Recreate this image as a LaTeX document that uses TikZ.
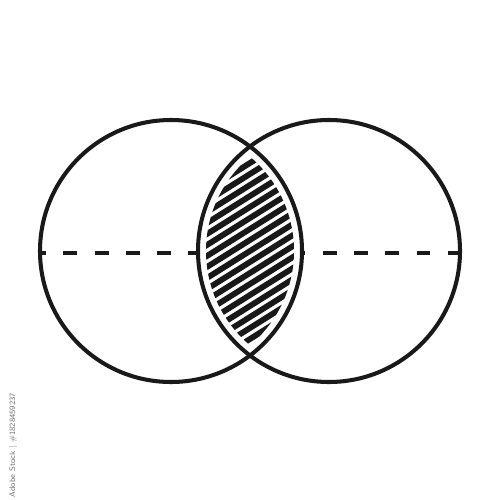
\documentclass[tikz,border=0pt]{standalone}
\usepackage{tikz}
\usetikzlibrary{calc}

\begin{document}
\begin{tikzpicture}[
          x=0.02cm,y=-0.02cm,
          ring/.style={draw=black!90,line width=2.3pt},
          axis/.style={draw=black!90,line width=2pt,dash pattern=on 7.9pt off 9.9pt},
          hatch/.style={draw=black!90,line width=3.3pt,line cap=round},
          stamp/.style={text=black!55,font=\sffamily\fontsize{4.6}{5}\selectfont,rotate=90}
        ]
        \useasboundingbox (0,0) rectangle (500,500);
        \def\rad{131}
        \coordinate (lc) at (171,251);
        \coordinate (rc) at (329,251);
        \coordinate (lw) at (40,253);
        \coordinate (lm) at (197,253);
        \coordinate (rm) at (302,253);
        \coordinate (re) at (460,253);
        % hatched lens
        \begin{scope}
          \clip (lc) circle (\rad-8);
          \clip (rc) circle (\rad-8);
          \foreach\k in {-10,...,10}{\draw[hatch] (140,251+\k*11+69) -- (360,251+\k*11-69);}
        \end{scope}
        % dashed diameter
        \draw[axis,dash phase=4.5pt] (lw) -- (lm);
        \draw[axis,dash phase=6pt] (rm) -- (re);
        \draw[ring] (lc) circle (\rad);
        \draw[ring] (rc) circle (\rad);
        \node[stamp] (mark) at (13,445) {Adobe Stock | \#1828459237};
      \end{tikzpicture}
\end{document}
